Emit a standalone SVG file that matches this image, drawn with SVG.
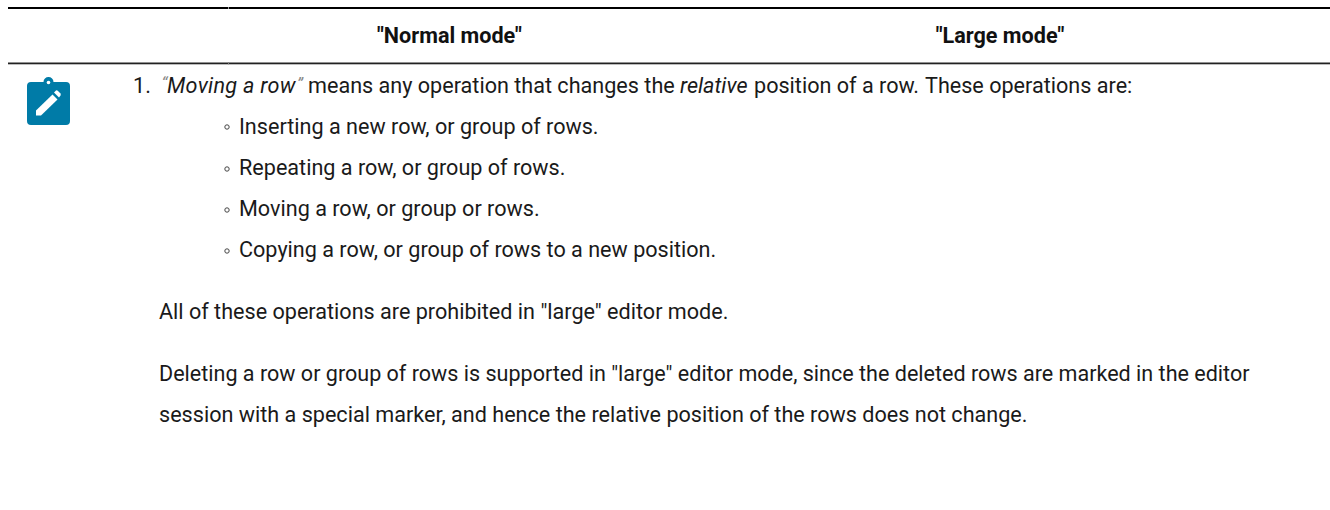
<svg xmlns="http://www.w3.org/2000/svg" width="1330" height="510" viewBox="0 0 1330 510">
<style>
text{font-family:Roboto,"Liberation Sans",sans-serif;font-size:21.600px;fill:#1a1a1a}
.h{font-weight:700;fill:#111;text-anchor:middle}
.q{fill:#888;font-style:italic;font-size:17px}
.i{font-style:italic}
.b{fill:none;stroke:#444;stroke-width:1}
</style>
<rect width="1330" height="510" fill="#fff"/>
<g id="rules">
<rect x="8" y="7" width="1322" height="2" fill="#000"/>
<rect x="8" y="62.500" width="1322" height="1.800" fill="#222"/>
<rect x="228" y="7" width="1" height="2" fill="#999"/>
<rect x="228" y="62.500" width="1" height="1.800" fill="#777"/>
</g>
<g id="note-icon">
<path fill="#007ba7" d="M31 82H43.500A5 5 0 0 1 53.500 82H66A4 4 0 0 1 70 86V121A4 4 0 0 1 66 125H31A4 4 0 0 1 27 121V86A4 4 0 0 1 31 82Z"/>
<circle cx="48.500" cy="82.500" r="1.800" fill="#fff"/>
<path fill="#fff" d="M36 110.500L52.500 94.500L57.500 99.500L41 115.500H36Z"/>
<path fill="#fff" d="M54 92.500L56 90.500Q57 90 58 91L60.500 93.500Q61 94.500 60.500 95.500L59 97.500Z"/>
</g>
<g id="header">
<text class="h" x="449.500" y="43">"Normal mode"</text>
<text class="h" x="1000" y="43">"Large mode"</text>
</g>
<g id="body">
<text x="133" y="92.700">1.</text>
<text class="q" x="161.500" y="88.500">“</text>
<text class="i" x="167" y="92.700" style="letter-spacing:0.300px">Moving a row</text>
<text class="q" x="297" y="88.500">”</text>
<text x="308" y="92.700">means any operation that changes the <tspan class="i" x="680">relative</tspan> <tspan x="754">position of a row.</tspan> <tspan x="925">These operations are:</tspan></text>
<circle cx="227" cy="127" r="2.200" class="b"/>
<text x="239" y="133.500">Inserting a new row, or group of rows.</text>
<circle cx="227" cy="169" r="2.200" class="b"/>
<text x="239" y="174.500">Repeating a row, or group of rows.</text>
<circle cx="227" cy="210" r="2.200" class="b"/>
<text x="239" y="215.500">Moving a row, or group or rows.</text>
<circle cx="227" cy="251" r="2.200" class="b"/>
<text x="239" y="256.500">Copying a row, or group of rows to a new position.</text>
<text x="159" y="319">All of these operations are prohibited in "large" editor mode.</text>
<text x="159" y="381" style="font-size:21.560px">Deleting a row or group of rows is supported in "large" editor mode, since the deleted rows are marked in the editor</text>
<text x="159" y="422">session with a special marker, and hence the relative position of the rows does not change.</text>
</g>
</svg>
